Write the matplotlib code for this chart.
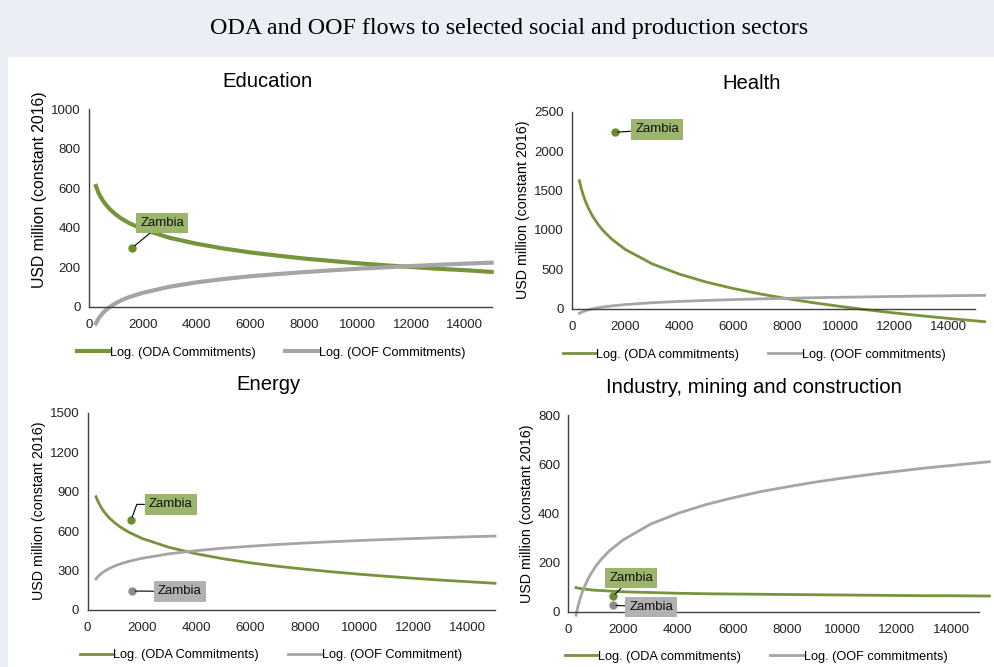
import matplotlib
matplotlib.use("Agg")
import matplotlib.pyplot as plt
from matplotlib.patches import Rectangle

plt.rcParams['font.family'] = ['Liberation Sans', 'DejaVu Sans']

# ODA / OOF log trend lines
edu_x = [260, 350, 400, 500, 600, 750, 800, 1000, 1200, 1500, 2000, 3000, 4000, 5000,
         6000, 7000, 8000, 9000, 10000, 11000, 12000, 13000, 14000, 15000]
edu_oda = [611, 579, 565, 541, 522, 498, 491, 467, 447, 423, 393, 349, 319, 295,
           275, 259, 244, 232, 220, 210, 201, 192, 185, 176]
edu_oof = [-84, -62, -51, -35, -21, -4, 1, 18, 32, 49, 70, 101, 123, 140,
           154, 165, 175, 184, 192, 199, 206, 212, 218, 223]

hea_x = [285, 350, 400, 500, 600, 750, 800, 1000, 1200, 1500, 2000, 3000, 4000, 5000,
         6000, 7000, 8000, 9000, 10000, 11000, 12000, 13000, 14000, 15000, 15360]
hea_oda = [1624, 1532, 1472, 1372, 1290, 1190, 1161, 1061, 979, 879, 750, 568, 439, 338,
           257, 188, 128, 75, 28, -15, -54, -90, -123, -154, -165]
hea_oof = [-59, -47, -40, -27, -16, -4, 0, 13, 23, 36, 52, 76, 92, 105,
           115, 124, 132, 139, 145, 150, 155, 160, 164, 168, 169]

ene_x = [308, 350, 400, 500, 600, 750, 800, 1000, 1200, 1500, 2000, 3000, 4000, 5000,
         6000, 7000, 8000, 9000, 10000, 11000, 12000, 13000, 14000, 15000]
ene_oda = [861, 839, 817, 779, 748, 710, 699, 662, 631, 593, 544, 476, 427, 389,
           358, 332, 310, 290, 272, 256, 241, 227, 215, 203]
ene_oof = [236, 247, 258, 277, 292, 311, 316, 335, 350, 369, 393, 427, 451, 470,
           485, 498, 509, 519, 528, 536, 543, 550, 556, 562]

ind_x = [280, 320, 350, 400, 500, 600, 750, 800, 1000, 1200, 1500, 2000, 3000, 4000, 5000,
         6000, 7000, 8000, 9000, 10000, 11000, 12000, 13000, 14000, 15000, 15375]
ind_oda = [98, 97, 96, 95, 93, 92, 90, 89, 87, 86, 84, 81, 78, 75, 73,
           72, 71, 70, 69, 68, 67, 66, 65, 65, 64, 64]
ind_oof = [-14, 7, 21, 42, 77, 105, 140, 150, 185, 213, 248, 292, 356, 400, 435,
           463, 488, 508, 527, 543, 558, 571, 584, 595, 606, 610]

# Zambia points (ODA, OOF)
zam_edu = (1620, 299)
zam_hea = (1610, 2238)
zam_ene_oda = (1600, 684)
zam_ene_oof = (1650, 144)
zam_ind_oda = (1640, 64)
zam_ind_oof = (1640, 26)

green = '#77933c'
grey = '#a5a5a5'
box_green = '#9cb56d'
box_grey = '#b1b1b1'

fig = plt.figure(figsize=(9.95, 6.67), dpi=100, facecolor='#eceef6')
fig.patches.append(Rectangle((0.008, 0), 0.992, 0.9145, transform=fig.transFigure,
                             facecolor='white', edgecolor='none', zorder=-10))
fig.text(0.512, 0.958, 'ODA and OOF flows to selected social and production sectors',
         ha='center', va='center', fontsize=17.3, family='Liberation Serif')


def setup(ax, title, ymax, ystep, title_x, ylab_xy, ylab_size):
    ax.set_xlim(0, 15000)
    ax.set_ylim(0, ymax)
    ax.set_xticks(range(0, 15000, 2000))
    ax.set_yticks(range(0, ymax + 1, ystep))
    for s in ['top', 'right']:
        ax.spines[s].set_visible(False)
    for s in ['left', 'bottom']:
        ax.spines[s].set_color('#404040')
        ax.spines[s].set_linewidth(1.0)
    ax.tick_params(axis='y', length=0, labelsize=9.5, colors='#222222', pad=6)
    ax.tick_params(axis='x', length=0, labelsize=9.5, colors='#222222', pad=9)
    t = ax.set_title(title, fontsize=14.6, pad=16)
    t.set_x(title_x)
    ax.set_ylabel('USD million (constant 2016)', fontsize=ylab_size)
    ax.yaxis.set_label_coords(*ylab_xy)
    ax.set_facecolor('none')


def zambia(ax, pt, txt_xy, dotc, boxc, conn='arc3'):
    ax.plot(*pt, 'o', color=dotc, ms=5, clip_on=False, zorder=5)
    ax.annotate('Zambia', xy=pt, xytext=txt_xy, ha='center', va='center',
                fontsize=9.5, color='#111111', zorder=6, annotation_clip=False,
                bbox=dict(boxstyle='square,pad=0.32', fc=boxc, ec='none'),
                arrowprops=dict(arrowstyle='-', color='black', lw=0.8,
                                shrinkA=0, shrinkB=2, connectionstyle=conn))


def legend(ax, h1, h2, anchor):
    ax.legend([h1, h2], [h1.get_label(), h2.get_label()], loc='upper center',
              bbox_to_anchor=anchor, ncol=2, frameon=False, fontsize=9.2,
              handlelength=2.6, handletextpad=0.0, columnspacing=2.3)


# Education
ax1 = fig.add_axes([0.0894, 0.5402, 0.4047, 0.2960])
setup(ax1, 'Education', 1000, 200, 0.444, (-0.104, 0.591), 11.3)
h1, = ax1.plot(edu_x, edu_oda, color=green, lw=3, label='Log. (ODA Commitments)', clip_on=False)
h2, = ax1.plot(edu_x, edu_oof, color=grey, lw=3, label='Log. (OOF Commitments)', clip_on=False)
zambia(ax1, zam_edu, (2730, 424), '#6a8a30', box_green)
legend(ax1, h1, h2, (0.452, -0.145))

# Health
ax2 = fig.add_axes([0.5746, 0.5372, 0.4053, 0.2954])
setup(ax2, 'Health', 2500, 500, 0.445, (-0.104, 0.503), 10.3)
h1, = ax2.plot(hea_x, hea_oda, color=green, lw=2, label='Log. (ODA commitments)', clip_on=False)
h2, = ax2.plot(hea_x, hea_oof, color=grey, lw=2, label='Log. (OOF commitments)', clip_on=False)
zambia(ax2, zam_hea, (3180, 2274), '#6a8a30', box_green)
legend(ax2, h1, h2, (0.452, -0.145))

# Energy
ax3 = fig.add_axes([0.0881, 0.0855, 0.4094, 0.2958])
setup(ax3, 'Energy', 1500, 300, 0.445, (-0.102, 0.503), 10.3)
h1, = ax3.plot(ene_x, ene_oda, color=green, lw=2, label='Log. (ODA Commitments)', clip_on=False)
h2, = ax3.plot(ene_x, ene_oof, color=grey, lw=2, label='Log. (OOF Commitment)', clip_on=False)
zambia(ax3, zam_ene_oda, (3055, 803), '#6a8a30', box_green,
       conn='angle,angleA=0,angleB=70,rad=0')
zambia(ax3, zam_ene_oof, (3390, 141), '#8c8c8c', box_grey)
legend(ax3, h1, h2, (0.45, -0.14))

# Industry, mining and construction
ax4 = fig.add_axes([0.5712, 0.0829, 0.4128, 0.2949])
setup(ax4, 'Industry, mining and construction', 800, 200, 0.452, (-0.084, 0.5), 10.3)
h1, = ax4.plot(ind_x, ind_oda, color=green, lw=2, label='Log. (ODA commitments)', clip_on=False)
h2, = ax4.plot(ind_x, ind_oof, color=grey, lw=2, label='Log. (OOF commitments)', clip_on=False)
zambia(ax4, zam_ind_oda, (2300, 137), '#6a8a30', box_green)
zambia(ax4, zam_ind_oof, (3030, 19), '#8c8c8c', box_grey)
legend(ax4, h1, h2, (0.457, -0.14))

fig.savefig('out.png', dpi=100, facecolor=fig.get_facecolor())
